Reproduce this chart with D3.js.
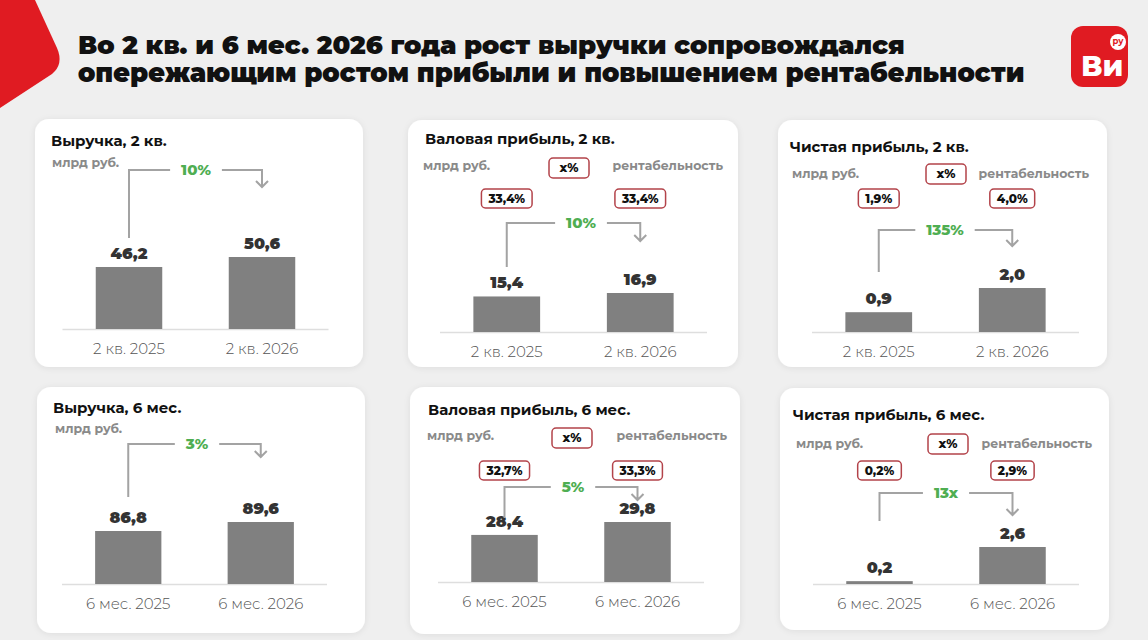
<!DOCTYPE html>
<html><head><meta charset="utf-8">
<script src="https://cdn.jsdelivr.net/npm/d3@7"></script>
<style>
html,body{margin:0;padding:0;background:#efefef;}
svg{display:block;}
</style></head><body>
<svg id="chart" width="1148" height="640"></svg>
<script>
// ---------- DATA ----------
const headline = ["Во 2 кв. и 6 мес. 2026 года рост выручки сопровождался",
                  "опережающим ростом прибыли и повышением рентабельности"];
const panelTitles = ["Выручка, 2 кв.", "Валовая прибыль, 2 кв.", "Чистая прибыль, 2 кв.",
                     "Выручка, 6 мес.", "Валовая прибыль, 6 мес.", "Чистая прибыль, 6 мес."];
const periods = [["2 кв. 2025", "2 кв. 2026"], ["2 кв. 2025", "2 кв. 2026"], ["2 кв. 2025", "2 кв. 2026"],
                 ["6 мес. 2025", "6 мес. 2026"], ["6 мес. 2025", "6 мес. 2026"], ["6 мес. 2025", "6 мес. 2026"]];
const values = [[46.2, 50.6], [15.4, 16.9], [0.9, 2.0], [86.8, 89.6], [28.4, 29.8], [0.2, 2.6]];
const growth = ["10%", "10%", "135%", "3%", "5%", "13x"];
const marginValues = [null, ["33,4%", "33,4%"], ["1,9%", "4,0%"], null, ["32,7%", "33,3%"], ["0,2%", "2,9%"]];
const unitLabel = "млрд руб.";
const legendBox = "x%";
const marginLabel = "рентабельность";
const logoText = "Ви";
const logoSup = "ру";

// ---------- LAYOUT (positions only) ----------
const headlineWidths = [827, 947];
const layout = [
  {card:[35,119,328,248], title:[51,146], unit:[52,167], axis:[62.5,328.5], base:329, maxH:72, floor:18.9, brY:170, lBot:238, arY:187, gapCx:196},
  {card:[408,120,330,247], title:[425,144], unit:[423,170], rentR:723, xpct:[569,158], mY:189, axis:[440,707], base:332, maxH:39, floor:0, brY:223, lBot:267, arY:241, gapCx:581},
  {card:[778,120,329,247], title:[790,152], unit:[792,178], rentR:1089, xpct:[946,164], mY:189, axis:[812,1079], base:332, maxH:44, floor:0, brY:230, lBot:272, arY:246, gapCx:945},
  {card:[37,387,328,246], title:[53,413], unit:[55,433], axis:[62,327], base:584, maxH:62, floor:70.3, brY:444, lBot:497, arY:457, gapCx:197},
  {card:[410,387,330,247], title:[428,415], unit:[427,440], rentR:727, xpct:[572,428], mY:461, axis:[438,704], base:582, maxH:60, floor:23.3, brY:487, lBot:518, arY:500, gapCx:573},
  {card:[780,388,329,242], title:[793,420], unit:[796,448], rentR:1092, xpct:[948,434], mY:461, axis:[813,1079], base:584, maxH:37, floor:0, brY:493, lBot:521, arY:515, gapCx:946}
];

const FF = "Montserrat, Inter, 'Noto Sans', sans-serif";
const RED = "#e01b22";
const BOXRED = "#b3434a";
const GREEN = "#4fae52";
const LINE = "#a3a3a3";
const fmt = d3.formatLocale({decimal: ",", thousands: " ", grouping: [3], currency: ["", ""]}).format(".1f");

const svg = d3.select("#chart");
const defs = svg.append("defs");
const f = defs.append("filter").attr("id", "sh").attr("x", "-10%").attr("y", "-10%").attr("width", "120%").attr("height", "130%");
f.append("feDropShadow").attr("dx", 0).attr("dy", 1).attr("stdDeviation", 3).attr("flood-color", "#000").attr("flood-opacity", 0.08);

svg.append("rect").attr("width", 1148).attr("height", 640).attr("fill", "#efefef");

// red corner shape
svg.append("path").attr("d", "M0,0 H35 L57,48 Q64,64 52,74 L0,108 Z").attr("fill", RED);

// headline
svg.selectAll("text.hl").data(headline).join("text").attr("class", "hl")
  .attr("x", 78).attr("y", (d, i) => 54 + i * 28)
  .attr("font-family", FF).attr("font-weight", 900).attr("font-size", 25)
  .attr("fill", "#111").text(d => d)
  .each(function(d, i) {
    const w = this.getComputedTextLength();
    d3.select(this).attr("font-size", 25 * headlineWidths[i] / w);
  });

// logo
const logo = svg.append("g");
logo.append("rect").attr("x", 1071).attr("y", 26).attr("width", 57).attr("height", 61).attr("rx", 12).attr("fill", RED);
logo.append("text").attr("x", 1081).attr("y", 76).attr("font-family", FF).attr("font-weight", 800)
  .attr("font-size", 29).attr("fill", "#fff").text(logoText);
logo.append("circle").attr("cx", 1118).attr("cy", 42).attr("r", 8).attr("fill", "#fff");
logo.append("text").attr("x", 1118).attr("y", 44).attr("text-anchor", "middle")
  .attr("font-family", FF).attr("font-weight", 700)
  .attr("font-size", 8.5).attr("fill", RED).text(logoSup);

// panels
layout.forEach((L, i) => {
  const g = svg.append("g");
  const [cx, cy, cw, ch] = L.card;
  g.append("rect").attr("x", cx).attr("y", cy).attr("width", cw).attr("height", ch)
    .attr("rx", 14).attr("fill", "#fff").attr("filter", "url(#sh)");

  g.append("text").attr("x", L.title[0]).attr("y", L.title[1]).attr("font-family", FF)
    .attr("font-weight", 700).attr("font-size", 15).attr("fill", "#111").text(panelTitles[i]);
  g.append("text").attr("x", L.unit[0]).attr("y", L.unit[1]).attr("font-family", FF)
    .attr("font-weight", 700).attr("font-size", 12.5).attr("fill", "#8a8a8a").text(unitLabel);

  const x = d3.scaleBand().domain(periods[i]).range(L.axis).paddingInner(0.5).paddingOuter(0.25);
  const y = d3.scaleLinear().domain([L.floor, d3.max(values[i])]).range([L.base, L.base - L.maxH]);

  // margin legend + values
  if (marginValues[i]) {
    g.append("text").attr("x", L.rentR).attr("y", L.unit[1]).attr("text-anchor", "end")
      .attr("font-family", FF).attr("font-weight", 700).attr("font-size", 12.5).attr("fill", "#8a8a8a").text(marginLabel);
    g.append("rect").attr("x", L.xpct[0] - 20).attr("y", L.xpct[1]).attr("width", 40).attr("height", 20)
      .attr("rx", 4).attr("fill", "#fff").attr("stroke", BOXRED).attr("stroke-width", 1.5);
    g.append("text").attr("x", L.xpct[0]).attr("y", L.xpct[1] + 10).attr("dy", "0.35em").attr("text-anchor", "middle")
      .attr("font-family", FF).attr("font-weight", 800).attr("font-size", 12.5).attr("fill", "#111").text(legendBox);
    const mg = g.selectAll("g.mb").data(periods[i].map((p, k) => ({p, m: marginValues[i][k]}))).join("g");
    mg.each(function(d) {
      const s = d3.select(this);
      const t = s.append("text").attr("x", x(d.p) + x.bandwidth() / 2).attr("y", L.mY + 10).attr("dy", "0.35em")
        .attr("text-anchor", "middle").attr("font-family", FF).attr("font-weight", 800).attr("font-size", 12)
        .attr("fill", "#111").text(d.m);
      const w = t.node().getComputedTextLength() + 14;
      s.insert("rect", "text").attr("x", x(d.p) + x.bandwidth() / 2 - w / 2).attr("y", L.mY).attr("width", w).attr("height", 19)
        .attr("rx", 4).attr("fill", "#fff").attr("stroke", BOXRED).attr("stroke-width", 1.5);
    });
  }

  // axis line
  g.append("line").attr("x1", L.axis[0]).attr("x2", L.axis[1]).attr("y1", L.base + 0.5).attr("y2", L.base + 0.5)
    .attr("stroke", "#dedede").attr("stroke-width", 1.5);

  // bars
  const rows = periods[i].map((p, k) => ({p, v: values[i][k]}));
  g.selectAll("rect.bar").data(rows).join("rect").attr("class", "bar")
    .attr("x", d => x(d.p)).attr("width", x.bandwidth())
    .attr("y", d => y(d.v)).attr("height", d => L.base - y(d.v)).attr("fill", "#808080");

  // value labels
  g.selectAll("text.val").data(rows).join("text").attr("class", "val")
    .attr("x", d => x(d.p) + x.bandwidth() / 2).attr("y", d => y(d.v) - 8).attr("text-anchor", "middle")
    .attr("font-family", FF).attr("font-weight", 900).attr("font-size", 16).attr("fill", "#333")
    .text(d => fmt(d.v));

  // category labels
  const ax = g.append("g").attr("transform", `translate(0,${L.base})`)
    .call(d3.axisBottom(x).tickSize(0).tickPadding(0));
  ax.select(".domain").remove();
  ax.selectAll("text").attr("y", 25).attr("dy", null).attr("font-family", FF).attr("font-weight", 300)
    .attr("font-size", 15).attr("fill", "#555");

  // growth bracket
  const x1 = x(periods[i][0]) + x.bandwidth() / 2;
  const x2 = x(periods[i][1]) + x.bandwidth() / 2;
  const gt = g.append("text").attr("x", L.gapCx).attr("y", L.brY).attr("dy", "0.35em").attr("text-anchor", "middle")
    .attr("font-family", FF).attr("font-weight", 800).attr("font-size", 15).attr("fill", GREEN).text(growth[i]);
  const half = gt.node().getComputedTextLength() / 2 + 11;
  g.append("path").attr("d", `M${x1},${L.lBot} V${L.brY} H${L.gapCx - half}`)
    .attr("fill", "none").attr("stroke", LINE).attr("stroke-width", 2);
  g.append("path").attr("d", `M${L.gapCx + half},${L.brY} H${x2} V${L.arY} M${x2 - 6},${L.arY - 6} L${x2},${L.arY} L${x2 + 6},${L.arY - 6}`)
    .attr("fill", "none").attr("stroke", LINE).attr("stroke-width", 2);
});
</script>
</body></html>
